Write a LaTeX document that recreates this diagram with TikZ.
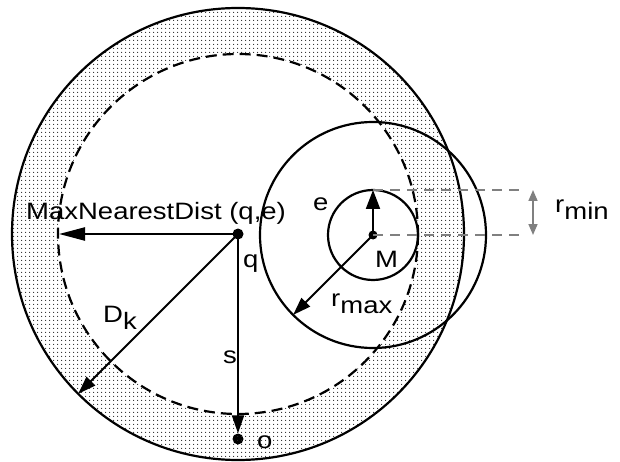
\documentclass[tikz,border=0pt]{standalone}
\usepackage{fontspec}
\setmainfont{Liberation Sans}
\usetikzlibrary{arrows.meta,patterns,positioning}

\newcommand\wtxt[1]{\scalebox{1.16}[1]{#1}}
\newcommand\lowsub[1]{\raisebox{-7.5pt}{#1}}

% fine dot raster for the ring
\pgfdeclarepatternformonly{ringdots}{\pgfpointorigin}{\pgfpoint{4pt}{4pt}}{\pgfpoint{4pt}{4pt}}{%
	\pgfpathcircle{\pgfpoint{2pt}{2pt}}{0.7pt}\pgfusepath{fill}}

\begin{document}
\begin{tikzpicture}[x=1pt,y=-1pt,
	font=\fontsize{23.7}{28}\selectfont,
	ring/.style={line width=2.2pt},
	dot/.style={circle,fill=black,inner sep=0pt,minimum size=11pt},
	arr/.style={line width=2pt,-{Triangle[length=18pt,width=12pt]}},
	aux/.style={line width=1.8pt,gray,dash pattern=on 10pt off 7pt},
	lbl/.style={anchor=base west,inner sep=0pt},
	]
	\useasboundingbox (0,0) rectangle (620,462);
	
	% query point, object and centre of the MBR
	\node[dot] (q) at (238,234) {};
	\node[dot] (o) at (238,439) {};
	\node[dot,minimum size=9pt] (M) at (373,235) {};
	
	% shaded ring
	\fill[pattern=ringdots,pattern color=black!85,even odd rule]
		(q.center) circle[radius=226] (q.center) circle[radius=180];
	\draw[ring] (q.center) circle[radius=226];
	\draw[ring,dash pattern=on 11pt off 6pt] (q.center) circle[radius=180];
	\draw[ring] (M.center) circle[radius=45];
	\draw[ring] (M.center) circle[radius=113];
	
	% end points
	\coordinate (mnd) at (59,234);
	\coordinate (mndmid) at (130,234);
	\coordinate (dk) at ([shift={(135:226)}]q.center);
	\coordinate (e) at ([shift={(0,-45)}]M.center);
	\coordinate (rmax) at ([shift={(135:113)}]M.center);
	\coordinate (etop) at (525,190);
	\coordinate (mbot) at (525,235);
	\coordinate (rmintop) at (533,190);
	\coordinate (rminbot) at (533,235);
	
	% arrows
	\draw[line width=1.3pt] (q.center) -- (mndmid);
	\draw[line width=2.3pt,-{Triangle[length=26pt,width=13pt]}] (mndmid) -- (mnd);
	\draw[arr] (q.center) -- (dk);
	\draw[arr] (q.center) -- (o);
	\draw[arr,-{Triangle[length=19pt,width=14pt]}] (M.center) -- (e);
	\draw[arr] (M.center) -- (rmax);
	\draw[aux] (e) -- (etop);
	\draw[aux] (M.center) -- (mbot);
	\draw[line width=1.6pt,gray,{Triangle[length=11pt,width=9pt]}-{Triangle[length=11pt,width=9pt]}]
		(rmintop) -- (rminbot);
	
	% labels
	\node[lbl] (mndlabel) at (26,219) {\wtxt{MaxNearestDist (q,e)}};
	\node[lbl] (dklabel) at (103,322) {\wtxt{D\lowsub{k}}};
	\node[lbl] (qlabel) at (243,267) {\wtxt{q}};
	\node[lbl] (slabel) at (223,363) {\wtxt{s}};
	\node[lbl] (olabel) at (257,448) {\wtxt{o}};
	\node[lbl] (elabel) at (313,211) {\wtxt{e}};
	\node[lbl] (mlabel) at (375,267) {\wtxt{M}};
	\node[lbl] (rmaxlabel) at (331,306) {\wtxt{r\lowsub{max}}};
	\node[lbl] (rminlabel) at (555,212) {\wtxt{r\lowsub{min}}};
\end{tikzpicture}
\end{document}
